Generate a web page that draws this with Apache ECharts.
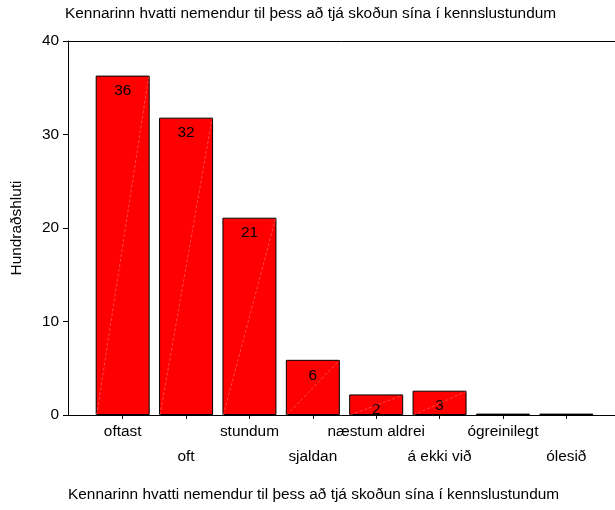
<!DOCTYPE html>
<html><head><meta charset="utf-8">
<script src="https://cdn.jsdelivr.net/npm/echarts@6/dist/echarts.min.js"></script>
<style>html,body{margin:0;padding:0;background:#fff}#c{width:615px;height:510px}</style>
</head><body><div id="c"></div>
<script>
const titleText = 'Kennarinn hvatti nemendur til þess að tjá skoðun sína í kennslustundum';
const yAxisName = 'Hundraðshluti';
const categories = ['oftast','oft','stundum','sjaldan','næstum aldrei','á ekki við','ógreinilegt','ólesið'];
const values = [36.3, 31.8, 21.1, 5.9, 2.2, 2.6, 0.15, 0.15];
const yTicks = {min: 0, max: 40, interval: 10};

const font = 'Liberation Sans, Arial, sans-serif';
const FS = 15.4;
const chart = echarts.init(document.getElementById('c'), null, {renderer: 'canvas'});
chart.setOption({
  animation: false,
  textStyle: {fontFamily: font},
  title: [
    {text: titleText, left: 60, top: 1, textStyle: {fontSize: FS, fontWeight: 'normal', color: '#000', fontFamily: font}},
    {text: titleText, left: 63, top: 482, textStyle: {fontSize: FS, fontWeight: 'normal', color: '#000', fontFamily: font}}
  ],
  grid: [
    {left: 68, right: 0, top: 41, bottom: 95},
    {left: 91, right: 17, top: 41, bottom: 95}
  ],
  xAxis: [
    {gridIndex: 0, type: 'category', data: [''], position: 'bottom',
     axisLine: {show: true, lineStyle: {color: '#000', width: 1}}, axisTick: {show: false}, axisLabel: {show: false}},
    {gridIndex: 0, type: 'category', data: [''], position: 'top',
     axisLine: {show: true, lineStyle: {color: '#000', width: 1}}, axisTick: {show: false}, axisLabel: {show: false}},
    {gridIndex: 1, type: 'category', data: categories, position: 'bottom',
     axisLine: {show: false}, axisTick: {show: true, alignWithLabel: true, length: 4, lineStyle: {color: '#000'}},
     axisLabel: {interval: 0, margin: 4, fontSize: FS, color: '#000', lineHeight: 25, fontFamily: font,
       formatter: (v, i) => (i % 2 === 1 ? '\n' + v : v)}}
  ],
  yAxis: [
    {gridIndex: 0, type: 'value', min: yTicks.min, max: yTicks.max, interval: yTicks.interval,
     name: yAxisName, nameLocation: 'middle', nameGap: 44, nameRotate: 90,
     nameTextStyle: {fontSize: FS, color: '#000', fontFamily: font},
     axisLine: {show: true, lineStyle: {color: '#000', width: 1}},
     axisTick: {show: true, length: 5, lineStyle: {color: '#000'}},
     axisLabel: {fontSize: FS, color: '#000', margin: 9, fontFamily: font},
     splitLine: {show: false}},
    {gridIndex: 1, type: 'value', min: yTicks.min, max: yTicks.max, show: false, splitLine: {show: false}}
  ],
  series: [{
    type: 'bar', xAxisIndex: 2, yAxisIndex: 1, data: values, barWidth: 54,
    itemStyle: {color: '#ff0000', borderColor: '#000', borderWidth: 1},
    label: {show: true, position: 'insideTop', distance: 8, fontSize: FS, color: '#000', fontFamily: font,
      formatter: p => (p.value >= 1 ? Math.round(p.value) : '')}
  }, {
    type: 'custom', xAxisIndex: 2, yAxisIndex: 1, data: values.map((v, i) => [i, v]), silent: true, z: 3,
    renderItem: (params, api) => {
      const v = api.value(1);
      if (v < 1) return null;
      const half = 27;
      const b = api.coord([api.value(0), 0]);
      const t = api.coord([api.value(0), v]);
      return {type: 'line', shape: {x1: b[0] - half + 1, y1: b[1], x2: t[0] + half - 1, y2: t[1] + 1},
        style: {stroke: 'rgba(255,170,170,0.7)', lineWidth: 0.6, lineDash: [3, 2]}};
    }
  }]
});
</script></body></html>
